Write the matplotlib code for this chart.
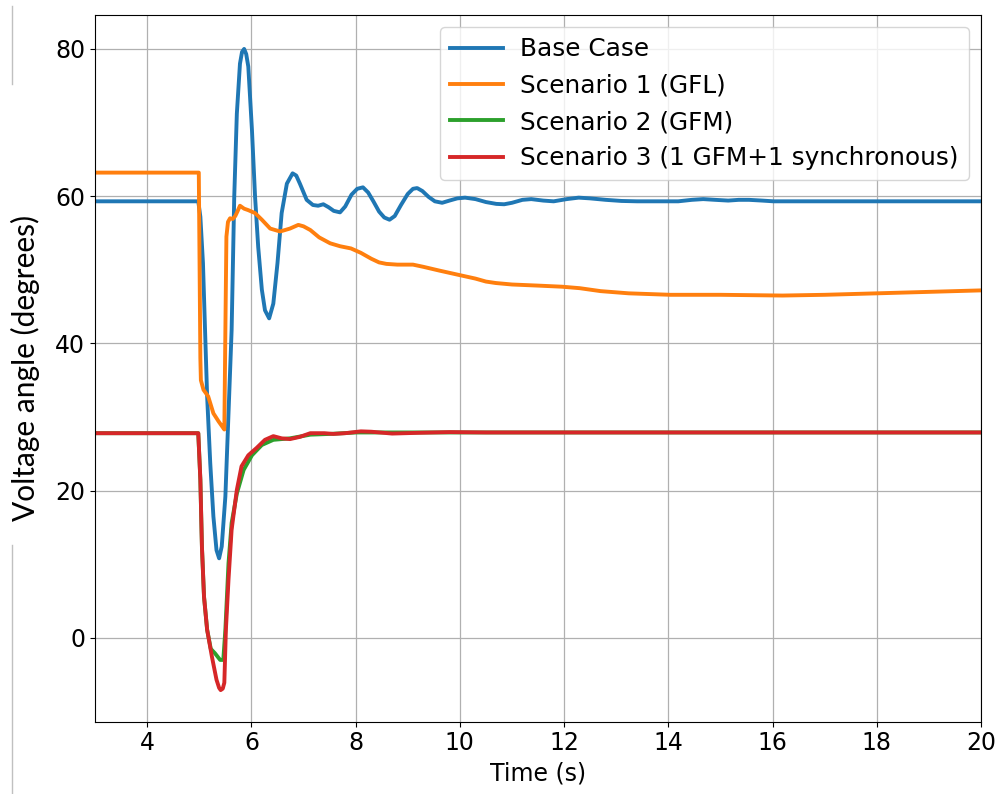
import matplotlib
matplotlib.use("Agg")
import matplotlib.pyplot as plt
from matplotlib.lines import Line2D

# ---- data ----
base_t = [3.0, 4.98, 5.02, 5.07, 5.11, 5.15, 5.21, 5.27, 5.33, 5.38, 5.43, 5.50, 5.56, 5.62,
          5.67, 5.72, 5.78, 5.82, 5.86, 5.90, 5.94, 6.01, 6.07, 6.13, 6.20, 6.26,
          6.34, 6.42, 6.50, 6.58, 6.68, 6.79, 6.86, 6.93, 7.06, 7.18, 7.28, 7.38,
          7.48, 7.58, 7.70, 7.80, 7.92, 8.03, 8.14, 8.24, 8.34, 8.45, 8.55, 8.65, 8.75, 8.87,
          9.00, 9.10, 9.18, 9.28, 9.40, 9.52, 9.66, 9.80, 9.95, 10.1, 10.3, 10.5, 10.7, 10.85,
          11.0, 11.2, 11.37, 11.6, 11.8, 12.05, 12.28, 12.5, 12.8, 13.1, 13.4, 13.8, 14.19,
          14.45, 14.67, 14.9, 15.15, 15.35, 15.55, 15.8, 16.02, 17.0, 18.0, 20.0]
base_v = [59.3, 59.3, 57.2, 50.9, 41.8, 32.8, 23.7, 16.5, 11.9, 10.8, 12.4, 19.2, 30.5, 41.8,
          59.9, 71.2, 78.0, 79.6, 80.0, 79.3, 77.6, 69.0, 59.9, 53.1, 47.3, 44.5,
          43.4, 45.4, 50.9, 57.7, 61.7, 63.1, 62.8, 61.7, 59.5, 58.8, 58.7, 58.9,
          58.5, 58.0, 57.8, 58.6, 60.2, 61.0, 61.2, 60.5, 59.3, 57.9, 57.1, 56.8, 57.3, 58.8,
          60.3, 61.0, 61.1, 60.7, 59.9, 59.3, 59.1, 59.4, 59.7, 59.8, 59.6, 59.2, 58.95, 58.9,
          59.1, 59.5, 59.6, 59.4, 59.3, 59.6, 59.8, 59.7, 59.5, 59.35, 59.3, 59.3, 59.3,
          59.5, 59.6, 59.5, 59.4, 59.5, 59.5, 59.4, 59.3, 59.3, 59.3, 59.3]

gfl_t = [3.0, 4.99, 5.02, 5.03, 5.08, 5.17, 5.27, 5.37, 5.46, 5.48, 5.505, 5.52,
         5.55, 5.59, 5.64, 5.69, 5.73, 5.78, 5.86, 5.94, 6.07, 6.20, 6.36, 6.55,
         6.74, 6.90, 7.00, 7.13, 7.30, 7.51, 7.70, 7.91, 8.10, 8.30, 8.45, 8.59,
         8.80, 9.10, 9.30, 9.60, 9.98, 10.3, 10.5, 10.69, 11.0, 11.5, 11.96, 12.3, 12.7, 13.24,
         14.04, 15.0, 16.19, 17.0, 18.0, 19.0, 20.0]
gfl_v = [63.2, 63.2, 38.0, 35.0, 33.7, 32.8, 30.5, 29.4, 28.5, 28.3, 45.0, 54.5,
         56.5, 57.0, 56.9, 57.3, 57.9, 58.7, 58.3, 58.1, 57.7, 56.8, 55.6, 55.2,
         55.6, 56.1, 55.9, 55.4, 54.4, 53.6, 53.2, 52.9, 52.3, 51.5, 51.0, 50.8,
         50.7, 50.7, 50.4, 49.9, 49.3, 48.8, 48.4, 48.2, 48.0, 47.85, 47.7, 47.5, 47.1, 46.8,
         46.6, 46.6, 46.5, 46.6, 46.8, 47.0, 47.2]

gfm_t = [3.0, 4.98, 5.02, 5.05, 5.09, 5.15, 5.22, 5.30, 5.40, 5.46, 5.50, 5.56, 5.62,
         5.72, 5.85, 6.01, 6.20, 6.42, 6.74, 7.13, 7.50, 8.02, 9.00, 20.0]
gfm_v = [27.8, 27.8, 21.5, 12.4, 5.6, 1.1, -1.5, -2.1, -3.0, -3.0, 1.1, 10.1, 15.6,
         19.6, 22.8, 24.8, 26.2, 26.9, 27.1, 27.6, 27.7, 27.9, 27.9, 27.9]

mix_t = [3.0, 4.98, 5.02, 5.05, 5.09, 5.15, 5.24, 5.33, 5.38, 5.41, 5.45, 5.48, 5.51,
         5.56, 5.62, 5.72, 5.81, 5.94, 6.10, 6.26, 6.42, 6.58, 6.74, 6.93, 7.13,
         7.40, 7.57, 7.80, 8.10, 8.30, 8.70, 9.20, 9.80, 10.5, 20.0]
mix_v = [27.8, 27.8, 21.5, 12.4, 5.6, 1.1, -2.5, -5.7, -6.8, -7.1, -6.9, -6.1, 1.1,
         7.9, 14.7, 20.1, 23.3, 24.8, 25.8, 26.9, 27.4, 27.1, 27.0, 27.3, 27.8,
         27.8, 27.7, 27.8, 28.05, 28.0, 27.75, 27.85, 27.95, 27.9, 27.9]

labels = ["Base Case", "Scenario 1 (GFL)", "Scenario 2 (GFM)",
          "Scenario 3 (1 GFM+1 synchronous)"]
colors = ["#1f77b4", "#ff7f0e", "#2ca02c", "#d62728"]
xticks = [4, 6, 8, 10, 12, 14, 16, 18, 20]
yticks = [0, 20, 40, 60, 80]

# ---- figure ----
fig = plt.figure(figsize=(10.01, 7.94), dpi=100)
ax = fig.add_axes([0.095, 0.091, 0.885, 0.890])

series = [(base_t, base_v), (gfl_t, gfl_v), (gfm_t, gfm_v), (mix_t, mix_v)]
for (t, v), lab, c in zip(series, labels, colors):
    ax.plot(t, v, color=c, lw=2.8, label=lab)

ax.set_xlim(3, 20)
ax.set_ylim(-11.4, 84.6)
ax.set_xticks(xticks)
ax.set_yticks(yticks)
ax.tick_params(labelsize=17)
ax.grid(True, color="#b0b0b0", lw=0.9)
ax.set_axisbelow(True)

ax.set_xlabel("Time (s)", fontsize=17, labelpad=4)
ax.set_ylabel("Voltage angle (degrees)", fontsize=21.5, family=["Lato", "DejaVu Sans"],
              labelpad=11)

ax.legend(loc="upper right", fontsize=17.8, framealpha=0.8, handlelength=2.15,
          handletextpad=0.7)

# stray separator lines at the left edge of the reference image
fig.add_artist(Line2D([12/1001, 12/1001], [1 - 6/794, 1 - 84/794],
                      transform=fig.transFigure, color="#c0c0c0", lw=1))
fig.add_artist(Line2D([12/1001, 12/1001], [1 - 545/794, 0.0],
                      transform=fig.transFigure, color="#c0c0c0", lw=1))

fig.savefig("out.png", dpi=100)
